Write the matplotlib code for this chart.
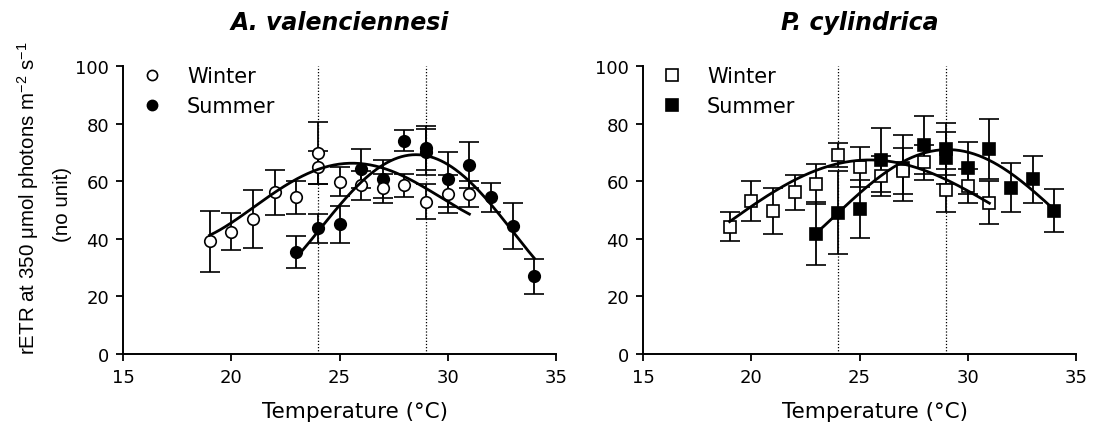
import numpy as np
import matplotlib
matplotlib.use("Agg")
import matplotlib.pyplot as plt
from matplotlib.lines import Line2D

plt.rcParams['font.family'] = ['DejaVu Sans']
plt.rcParams['mathtext.fontset'] = 'custom'
plt.rcParams['mathtext.rm'] = 'Liberation Sans'
plt.rcParams['mathtext.it'] = 'Liberation Sans:italic'

# ---- Data: A. valenciennesi ----
aw_T = [19, 20, 21, 22, 23, 24, 24, 25, 26, 27, 28, 29, 30, 31]
aw_y = [39.1, 42.5, 46.8, 56.1, 54.4, 69.8, 64.9, 59.8, 58.6, 57.5, 58.6, 52.9, 55.5, 55.5]
aw_err = [10.6, 6.5, 10.0, 7.7, 5.7, 10.7, 5.7, 5.0, 5.0, 5.0, 4.0, 6.0, 6.5, 4.4]

as_T = [23, 24, 25, 26, 27, 28, 29, 29, 30, 31, 32, 33, 34]
as_y = [35.4, 43.7, 45.0, 64.4, 60.7, 74.1, 71.5, 70.0, 60.7, 65.7, 54.4, 44.5, 27.0]
as_err = [5.7, 5.0, 6.5, 6.7, 6.7, 3.7, 7.5, 8.0, 9.5, 8.0, 5.0, 8.0, 6.0]

# fitted curves
aw_fit_T = [19, 20, 21, 22, 23, 24, 25, 26, 27, 28, 29, 30, 31]
aw_fit_y = [41.4, 45.4, 50.3, 56.3, 60.9, 64.4, 65.9, 65.8, 64.4, 61.5, 57.5, 53.4, 48.3]
as_fit_T = [23, 24, 25, 26, 27, 28, 29, 30, 31, 32, 33, 34]
as_fit_y = [32.8, 44.2, 51.1, 58.6, 65.2, 69.2, 70.2, 65.5, 59.2, 51.7, 43.1, 33.1]

# ---- Data: P. cylindrica ----
pw_T = [19, 20, 21, 22, 23, 24, 25, 26, 27, 28, 29, 30, 31]
pw_y = [44.2, 53.2, 49.7, 56.1, 59.0, 69.1, 65.0, 61.8, 63.4, 66.5, 56.9, 58.4, 52.6]
pw_err = [5.0, 7.0, 8.0, 6.0, 7.0, 4.0, 7.0, 7.0, 8.0, 6.0, 7.5, 6.0, 7.5]

ps_T = [23, 24, 25, 26, 27, 28, 29, 29, 30, 31, 32, 33, 34]
ps_y = [41.8, 49.1, 50.3, 67.3, 64.5, 72.6, 71.1, 68.2, 64.7, 71.1, 57.8, 60.6, 49.8]
ps_err = [11.0, 14.5, 10.0, 11.0, 11.5, 10.0, 9.0, 9.0, 9.0, 10.5, 8.5, 8.0, 7.4]

pw_fit_T = [19, 20, 21, 22, 23, 24, 25, 26, 27, 28, 29, 30, 31]
pw_fit_y = [46.0, 51.1, 56.3, 60.3, 63.8, 66.1, 67.2, 67.2, 66.1, 63.8, 60.3, 56.9, 52.3]
ps_fit_T = [23, 24, 25, 26, 27, 28, 29, 30, 31, 32, 33, 34]
ps_fit_y = [42.0, 48.9, 55.7, 62.1, 66.7, 69.8, 71.0, 70.1, 67.2, 62.6, 56.9, 50.0]

vlines_T = [24, 29]
titles = ["A. valenciennesi", "P. cylindrica"]
legend_labels = ["Winter", "Summer"]
xticks = [15, 20, 25, 30, 35]
yticks = [0, 20, 40, 60, 80, 100]

W, H = 1094, 435
fig = plt.figure(figsize=(W / 100, H / 100), dpi=100)
ax1 = fig.add_axes([123 / W, 1 - 355 / H, 433 / W, 288 / H])
ax2 = fig.add_axes([643 / W, 1 - 355 / H, 433 / W, 288 / H])


def smooth(T, y):
    c = np.polyfit(T, y, 4)
    xs = np.linspace(min(T), max(T), 200)
    return xs, np.polyval(c, xs)


def panel(ax, wT, wy, we, sT, sy, se, wfT, wfy, sfT, sfy, marker, title):
    for v in vlines_T:
        ax.axvline(v, ymin=0, ymax=1, color='black', lw=0.9, ls=(0, (1, 1.5)), zorder=1)
    ekw = dict(ecolor='black', elinewidth=1.3, capsize=7.5, capthick=1.3, ls='none')
    ms = 9 if marker == 's' else 8.3
    ax.errorbar(sT, sy, yerr=se, marker=marker, ms=ms, mfc='black', mec='black',
                mew=1.2, zorder=3, **ekw)
    ax.errorbar(wT, wy, yerr=we, marker=marker, ms=ms, mfc='white', mec='black',
                mew=1.2, zorder=4, **ekw)
    xs, ys = smooth(wfT, wfy)
    ax.plot(xs, ys, color='black', lw=2.0, zorder=5)
    xs, ys = smooth(sfT, sfy)
    ax.plot(xs, ys, color='black', lw=2.0, zorder=5)

    ax.set_xlim(15, 35)
    ax.set_ylim(0, 100)
    ax.set_xticks(xticks)
    ax.set_yticks(yticks)
    for s in ['top', 'right']:
        ax.spines[s].set_visible(False)
    for s in ['left', 'bottom']:
        ax.spines[s].set_linewidth(1.4)
    ax.tick_params(direction='out', length=5, width=1.3, labelsize=13, pad=5)
    ax.set_xlabel("Temperature (°C)", fontsize=15.5)
    ax.xaxis.set_label_coords(0.536, -0.163)
    ax.xaxis.label.set_va('top')
    ax.text(0.5, 1.128, title, transform=ax.transAxes, ha='center', va='baseline',
            fontsize=17, fontweight='bold', fontstyle='italic')

    h = [Line2D([], [], marker=marker, ls='none', ms=ms - 1, mfc='white', mec='black', mew=1.2),
         Line2D([], [], marker=marker, ls='none', ms=ms - 1, mfc='black', mec='black', mew=1.2)]
    ax.legend(h, legend_labels, loc='upper left', bbox_to_anchor=(0.043, 1.0),
              frameon=False, fontsize=15, handlelength=1.0, handletextpad=1.18,
              labelspacing=0.5, borderaxespad=0.0, borderpad=0.0)


panel(ax1, aw_T, aw_y, aw_err, as_T, as_y, as_err, aw_fit_T, aw_fit_y, as_fit_T, as_fit_y,
      'o', titles[0])
panel(ax2, pw_T, pw_y, pw_err, ps_T, ps_y, ps_err, pw_fit_T, pw_fit_y, ps_fit_T, ps_fit_y,
      's', titles[1])

fig.text(28 / W, 1 - 198 / H, "rETR at 350 μmol photons m$^{-2}$ s$^{-1}$",
         rotation=90, ha='center', va='center', fontsize=14.8, family='Liberation Sans')
fig.text(62 / W, 1 - 205 / H, "(no unit)",
         rotation=90, ha='center', va='center', fontsize=14.8, family='Liberation Sans')

fig.savefig("out.png", dpi=100)
